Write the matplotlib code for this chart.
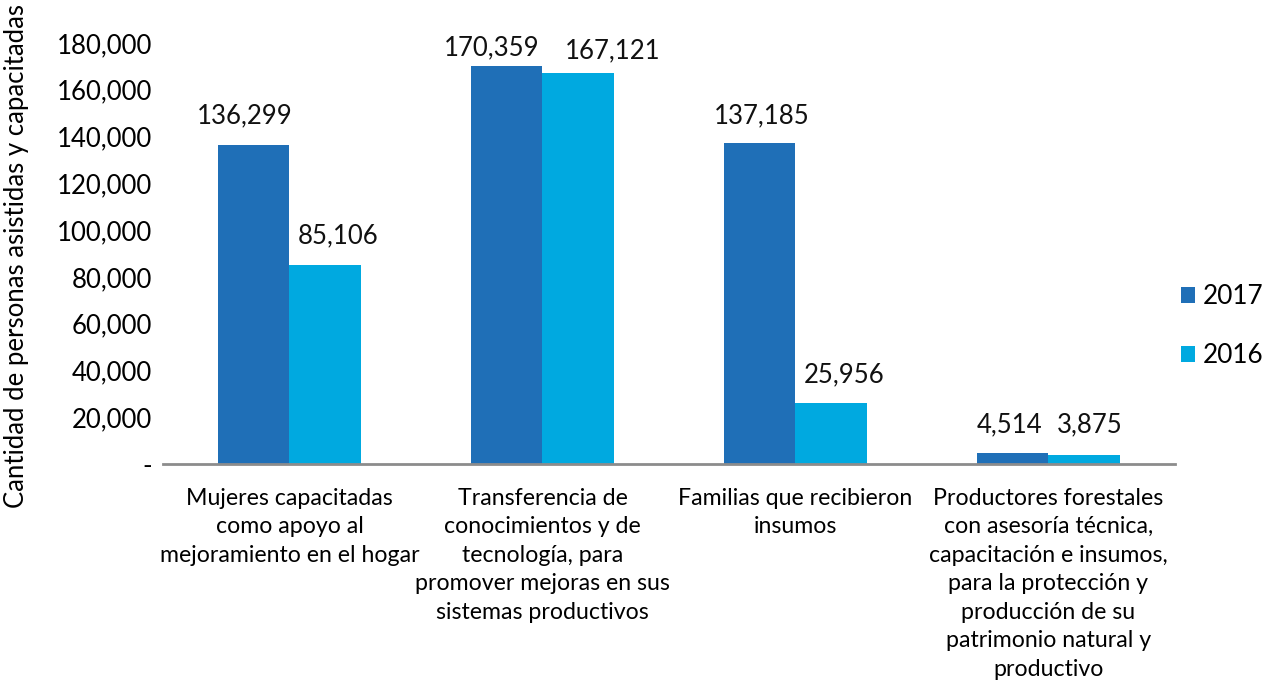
import numpy as np
import matplotlib.pyplot as plt
from matplotlib.ticker import FuncFormatter

plt.rcParams['font.family'] = ['Lato', 'DejaVu Sans']

categories = ["Mujeres capacitadas\ncomo apoyo al\nmejoramiento en el hogar",
              "Transferencia de\nconocimientos y de\ntecnología, para\npromover mejoras en sus\nsistemas productivos",
              "Familias que recibieron\ninsumos",
              "Productores forestales\ncon asesoría técnica,\ncapacitación e insumos,\npara la protección y\nproducción de su\npatrimonio natural y\nproductivo"]
vals_2017 = [136299, 170359, 137185, 4514]
vals_2016 = [85106, 167121, 25956, 3875]
series = ['2017', '2016']
colors = ['#1f6fb7', '#00a9e0']

fig = plt.figure(figsize=(12.69, 6.83), dpi=100)
ax = fig.add_axes([0.1284, 0.3206, 0.7975, 0.6164])

x = np.arange(len(categories))
w = 0.284
b1 = ax.bar(x - w/2, vals_2017, w, color=colors[0], label=series[0])
b2 = ax.bar(x + w/2, vals_2016, w, color=colors[1], label=series[1])

# value labels: Excel shifts them a bit sideways, tall middle pair sits lower
label_dx = [[-6, -11, 1.5, -2.5], [9.5, 24.5, 9, 4]]   # points
label_dy = [[12, 4, 11, 11.5], [12, 7, 11.5, 13]]
for si, bars in enumerate((b1, b2)):
    for ci, r in enumerate(bars):
        ax.annotate(f"{int(r.get_height()):,}", (r.get_x() + r.get_width()/2, r.get_height()),
                    xytext=(label_dx[si][ci], label_dy[si][ci]), textcoords='offset points',
                    ha='center', va='bottom', fontsize=18.5, color='#111111')

ax.set_xlim(-0.5, 3.5)
ax.set_ylim(0, 180000)
ax.set_yticks(np.arange(0, 180001, 20000))
ax.yaxis.set_major_formatter(FuncFormatter(lambda v, p: '-' if v == 0 else f"{int(v):,}"))
ax.set_xticks(x)
ax.set_xticklabels(categories, fontsize=16.7, linespacing=1.44)

for s in ['top', 'right', 'left']:
    ax.spines[s].set_visible(False)
ax.spines['bottom'].set_color('#8c8c8c')
ax.spines['bottom'].set_linewidth(2)
ax.tick_params(axis='y', length=0, pad=8, labelsize=18.5)
ax.tick_params(axis='x', length=0, pad=17)

ax.set_ylabel('Cantidad de personas asistidas y capacitadas', fontsize=18.5)
ax.yaxis.set_label_coords(-0.132, 0.494)

ax.legend(loc='center left', bbox_to_anchor=(1.006, 0.328), frameon=False,
          fontsize=18.8, handlelength=0.55, handleheight=0.55, handletextpad=0.3,
          labelspacing=1.3, borderpad=0, borderaxespad=0)

fig.savefig('out.png', dpi=100)
